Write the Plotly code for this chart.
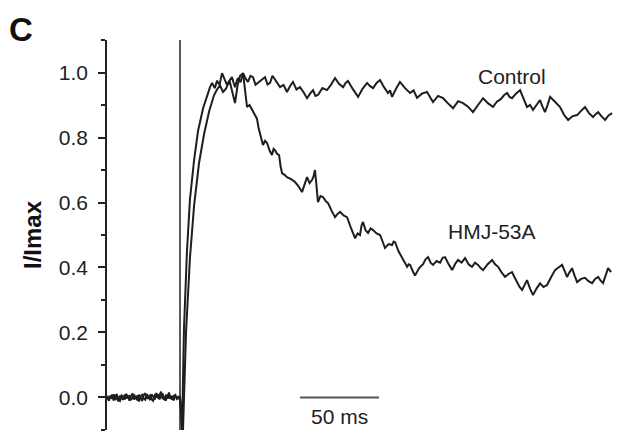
import plotly.graph_objects as go

# ---- data (time in ms relative to stimulus, values I/Imax) ----
base_t = list(range(-46, 0))
base_ctrl = [0.0, -0.01, 0.006, -0.004, 0.01, -0.008, 0.003, -0.012, 0.005, 0.0,
             -0.007, 0.009, -0.003, 0.006, -0.01, 0.004, 0.012, -0.006, 0.002, -0.009,
             0.008, 0.0, -0.011, 0.007, 0.013, -0.004, 0.005, -0.008, 0.01, 0.002,
             -0.006, 0.014, -0.002, 0.006, 0.018, -0.005, 0.003, -0.01, 0.009, -0.003,
             0.006, -0.007, 0.004, 0.008, -0.004, 0.002]
base_hmj = [0.005, -0.004, 0.0, 0.008, -0.009, 0.004, 0.01, -0.005, -0.01, 0.006,
            0.002, -0.006, 0.011, -0.002, 0.004, -0.008, 0.0, 0.009, -0.004, 0.006,
            -0.012, 0.003, 0.008, -0.003, -0.007, 0.01, 0.0, 0.006, -0.005, -0.01,
            0.007, 0.003, 0.01, -0.006, 0.004, 0.012, -0.008, 0.005, 0.0, 0.015,
            -0.004, 0.002, -0.009, 0.006, 0.0, -0.003]

# (time ms, I/Imax)
control_pts = [
    (0, 0.0), (1.3, -0.1), (2.5, 0.21), (4.4, 0.45), (6.3, 0.61), (8.9, 0.73),
    (11.4, 0.82), (14.6, 0.89), (17.7, 0.94), (19.0, 0.955), (20.3, 0.968),
    (22.0, 0.952), (23.5, 0.975), (25.0, 0.962), (26.6, 0.998), (28.2, 0.978),
    (29.7, 0.962), (31.3, 0.975), (32.9, 0.986), (33.8, 0.97), (34.8, 0.955),
    (35.8, 0.972), (36.7, 0.983), (38.3, 0.97), (39.9, 0.998), (41.5, 0.982),
    (43.0, 0.971), (44.6, 0.99), (46.2, 0.986), (47.8, 0.962), (49.4, 0.968),
    (51.6, 0.978), (53.8, 0.986), (55.4, 0.963), (57.0, 0.968), (58.5, 0.99),
    (60.1, 0.977), (61.7, 0.965), (63.3, 0.955), (65.5, 0.962), (67.7, 0.94),
    (69.6, 0.958), (71.5, 0.971), (73.7, 0.948), (75.9, 0.955), (78.1, 0.94),
    (80.4, 0.921), (82.3, 0.935), (84.2, 0.946), (85.7, 0.928), (87.3, 0.931),
    (90.1, 0.952), (93.0, 0.946), (95.5, 0.962), (98.1, 0.983), (100.6, 0.965),
    (103.2, 0.955), (104.8, 0.968), (106.3, 0.974), (109.5, 0.948), (112.7, 0.925),
    (115.5, 0.95), (118.4, 0.968), (120.3, 0.958), (122.2, 0.952), (124.4, 0.968),
    (126.6, 0.977), (129.1, 0.955), (131.6, 0.937), (132.9, 0.945), (134.2, 0.925),
    (136.7, 0.95), (139.2, 0.971), (142.4, 0.952), (145.6, 0.937), (147.8, 0.945),
    (150.0, 0.922), (153.1, 0.935), (156.3, 0.94), (158.2, 0.925), (160.1, 0.909),
    (163.3, 0.928), (166.5, 0.921), (169.6, 0.905), (172.8, 0.89), (176.0, 0.912),
    (179.1, 0.906), (182.3, 0.895), (185.4, 0.878), (188.6, 0.9), (191.8, 0.921),
    (195.0, 0.905), (198.1, 0.894), (200.5, 0.91), (203.0, 0.918), (205.0, 0.93),
    (207.0, 0.937), (208.5, 0.925), (210.1, 0.921), (212.6, 0.935), (215.2, 0.946),
    (217.4, 0.92), (219.6, 0.894), (221.5, 0.9), (223.4, 0.885), (225.6, 0.9),
    (227.8, 0.915), (229.4, 0.895), (231.0, 0.878), (232.6, 0.9), (234.2, 0.925),
    (237.3, 0.91), (240.5, 0.894), (243.0, 0.87), (245.6, 0.854), (248.5, 0.866),
    (251.3, 0.869), (253.8, 0.882), (256.3, 0.894), (258.8, 0.875), (261.4, 0.863),
    (263.0, 0.872), (264.6, 0.878), (266.8, 0.865), (269.0, 0.854), (271.2, 0.868),
    (273.4, 0.875),
]
hmj_pts = [
    (0, 0.0), (1.9, -0.1), (3.8, 0.2), (6.3, 0.43), (8.9, 0.59), (12.0, 0.72),
    (15.2, 0.81), (18.4, 0.88), (21.5, 0.93), (23.4, 0.948), (25.3, 0.96),
    (27.2, 0.94), (29.1, 0.95), (30.4, 0.965), (31.6, 0.97), (33.2, 0.94),
    (34.8, 0.906), (36.4, 0.96), (38.0, 0.99), (39.9, 0.998), (41.2, 0.95),
    (42.4, 0.894), (44.0, 0.9), (45.6, 0.885), (47.2, 0.87), (48.7, 0.858),
    (49.7, 0.83), (50.6, 0.814), (51.6, 0.795), (52.5, 0.777), (53.8, 0.79),
    (55.1, 0.783), (56.7, 0.76), (58.2, 0.746), (59.2, 0.765), (60.1, 0.761),
    (61.4, 0.75), (62.7, 0.746), (63.7, 0.71), (64.6, 0.69), (66.2, 0.685),
    (67.7, 0.678), (70.3, 0.672), (72.8, 0.663), (75.0, 0.65), (77.2, 0.632),
    (78.8, 0.655), (80.4, 0.678), (82.0, 0.66), (83.5, 0.669), (84.5, 0.68),
    (85.4, 0.7), (86.4, 0.65), (87.3, 0.601), (88.9, 0.62), (90.5, 0.617),
    (92.1, 0.605), (93.7, 0.598), (95.9, 0.575), (98.1, 0.555), (99.7, 0.565),
    (101.3, 0.571), (103.5, 0.56), (105.7, 0.555), (108.3, 0.52), (110.8, 0.49),
    (112.4, 0.505), (113.9, 0.5), (114.9, 0.53), (115.8, 0.54), (117.4, 0.515),
    (119.0, 0.506), (120.6, 0.52), (122.2, 0.515), (124.4, 0.505), (126.6, 0.5),
    (128.2, 0.48), (129.7, 0.46), (132.0, 0.472), (134.2, 0.469), (135.2, 0.48),
    (136.1, 0.478), (138.3, 0.45), (140.5, 0.429), (142.1, 0.415), (143.7, 0.402),
    (144.7, 0.41), (145.6, 0.408), (147.2, 0.39), (148.7, 0.375), (151.3, 0.398),
    (153.8, 0.41), (155.4, 0.425), (157.0, 0.432), (158.6, 0.415), (160.1, 0.408),
    (162.4, 0.42), (164.6, 0.415), (166.2, 0.43), (167.7, 0.432), (170.0, 0.41),
    (172.2, 0.392), (174.0, 0.41), (175.9, 0.423), (178.2, 0.415), (180.4, 0.429),
    (182.6, 0.41), (184.8, 0.402), (186.7, 0.415), (188.6, 0.408), (190.2, 0.398),
    (191.8, 0.392), (194.7, 0.41), (197.5, 0.423), (199.4, 0.41), (201.3, 0.402),
    (203.5, 0.385), (205.7, 0.371), (207.9, 0.38), (210.1, 0.386), (211.7, 0.37),
    (213.3, 0.355), (214.9, 0.34), (216.5, 0.331), (218.0, 0.345), (219.6, 0.361),
    (221.5, 0.335), (223.4, 0.315), (225.6, 0.335), (227.8, 0.351), (230.0, 0.34),
    (232.3, 0.346), (234.8, 0.37), (237.3, 0.392), (239.5, 0.4), (241.8, 0.408),
    (243.3, 0.39), (244.9, 0.371), (246.5, 0.385), (248.1, 0.398), (249.7, 0.375),
    (251.3, 0.355), (253.8, 0.365), (256.3, 0.368), (258.5, 0.358), (260.8, 0.352),
    (262.7, 0.365), (264.6, 0.371), (266.1, 0.36), (267.7, 0.352), (269.3, 0.375),
    (270.9, 0.398), (272.8, 0.386),
]

y_ticks = [0.0, 0.2, 0.4, 0.6, 0.8, 1.0]
y_tick_text = ["0.0", "0.2", "0.4", "0.6", "0.8", "1.0"]
scale_bar_t = [75.9, 125.9]
scale_bar_label = "50 ms"
stim_t = 0

FONT = "Arial, Liberation Sans, sans-serif"
TRACE = "#1e1e1e"

ctrl_t = base_t + [p[0] for p in control_pts]
ctrl_v = base_ctrl + [p[1] for p in control_pts]
hmj_t = base_t + [p[0] for p in hmj_pts]
hmj_v = base_hmj + [p[1] for p in hmj_pts]

fig = go.Figure()
fig.add_trace(go.Scatter(x=[stim_t, stim_t], y=[-0.1, 1.1], mode="lines",
                         line=dict(color="#222", width=1.5), hoverinfo="skip"))
fig.add_trace(go.Scatter(x=ctrl_t, y=ctrl_v, mode="lines", name="Control",
                         line=dict(color=TRACE, width=2)))
fig.add_trace(go.Scatter(x=hmj_t, y=hmj_v, mode="lines", name="HMJ-53A",
                         line=dict(color=TRACE, width=2)))
fig.add_trace(go.Scatter(x=scale_bar_t, y=[0.0, 0.0], mode="lines",
                         line=dict(color="#555", width=2), hoverinfo="skip"))

ann_font = dict(family=FONT, size=21, color="#222")
fig.add_annotation(x=210.1, y=0.989, text="Control", showarrow=False, font=ann_font)
fig.add_annotation(x=197.5, y=0.512, text="HMJ-53A", showarrow=False, font=ann_font)
fig.add_annotation(x=sum(scale_bar_t) / 2, y=-0.06, text=scale_bar_label,
                   showarrow=False, font=ann_font)
fig.add_annotation(xref="paper", yref="paper", x=(21 - 107) / 518, y=(430 - 29) / 390,
                   xanchor="center", yanchor="middle",
                   text="<b>C</b>", showarrow=False,
                   font=dict(family=FONT, size=33, color="#111"))
fig.add_annotation(xref="paper", yref="paper", x=(32 - 107) / 518, y=0.5,
                   xanchor="center", yanchor="middle",
                   text="<b>I/Imax</b>", showarrow=False, textangle=-90,
                   font=dict(family=FONT, size=24, color="#111"))

fig.update_layout(
    width=633, height=435,
    margin=dict(l=107, r=8, t=40, b=5),
    paper_bgcolor="white", plot_bgcolor="white",
    showlegend=False,
    xaxis=dict(visible=False, range=[-46.2, 281.6]),
    yaxis=dict(range=[-0.1001, 1.1001], showgrid=False, zeroline=False,
               showline=True, linecolor="#222", linewidth=1.5,
               ticks="outside", ticklen=7, tickwidth=1.5, tickcolor="#222",
               tickvals=y_ticks, ticktext=y_tick_text, ticklabelstandoff=6,
               tickfont=dict(family=FONT, size=21, color="#222"),
               minor=dict(ticks="outside", ticklen=4, tickwidth=1.5,
                          tickcolor="#222", dtick=0.1, tick0=0, showgrid=False)),
)
fig.write_html("out.html")
